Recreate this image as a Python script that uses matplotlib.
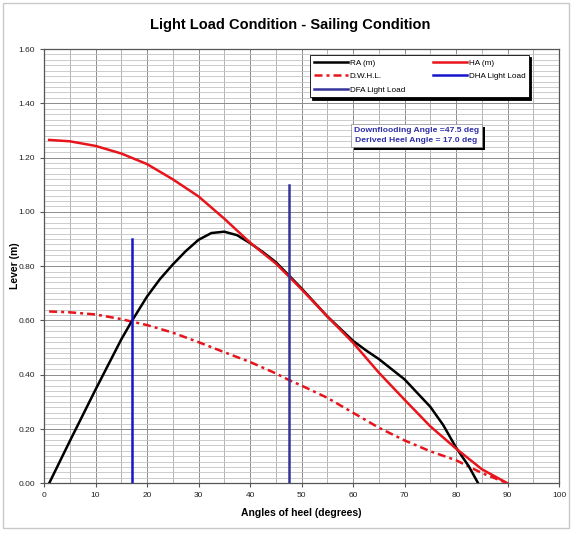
import matplotlib
matplotlib.use('Agg')
import numpy as np
import matplotlib.pyplot as plt
import matplotlib.patheffects as pe
from matplotlib.patches import Rectangle

plt.rcParams['font.family'] = ['Liberation Sans', 'DejaVu Sans']

# righting arm (RA)
ra_angle = [1, 5, 10, 15, 17, 20, 22.5, 25, 27.5, 30, 32.5, 35, 37.5, 40,
            42.5, 45, 47.5, 50, 55, 60, 62.5, 65, 70, 75, 77.5, 80, 82.5, 84.3]
ra_lever = [0, 0.155, 0.345, 0.53, 0.596, 0.688, 0.752, 0.806, 0.855, 0.897,
            0.922, 0.927, 0.914, 0.885, 0.852, 0.815, 0.767, 0.718, 0.615,
            0.525, 0.49, 0.458, 0.383, 0.282, 0.215, 0.132, 0.062, 0]

# heeling arm (HA)
ha_angle = [1, 5, 10, 15, 20, 25, 30, 35, 40, 45, 47.5, 50, 55, 60, 65, 70,
            75, 80, 85, 90]
ha_lever = [1.265, 1.26, 1.243, 1.215, 1.176, 1.12, 1.057, 0.975, 0.887, 0.81,
            0.763, 0.715, 0.615, 0.518, 0.408, 0.308, 0.21, 0.128, 0.052, 0]

# D.W.H.L.
dw_angle = [1, 5, 10, 15, 17, 20, 25, 30, 35, 40, 45, 47.5, 50, 55, 60, 65,
            70, 75, 80, 85, 90]
dw_lever = [0.633, 0.63, 0.622, 0.605, 0.596, 0.583, 0.555, 0.52, 0.483, 0.447,
            0.405, 0.381, 0.36, 0.315, 0.26, 0.205, 0.158, 0.118, 0.085, 0.038, 0]

dha_angle = 17.0
dha_top = 0.90
dfa_angle = 47.5
dfa_top = 1.10

fig = plt.figure(figsize=(5.73, 5.55), dpi=100)
ax = fig.add_axes([0.0768, 0.1292, 0.8988, 0.7825])

# outer frame of the chart
fig.patches.append(Rectangle((0.005, 0.0486), 0.988, 0.946, transform=fig.transFigure,
                             fill=False, edgecolor='#c8c8c8', linewidth=1.0))

ax.set_xlim(0, 100)
ax.set_ylim(0, 1.6)
ax.set_xticks(np.arange(0, 101, 10))
ax.set_xticks(np.arange(0, 101, 5), minor=True)
ax.set_yticks(np.arange(0, 1.61, 0.2))
ax.set_yticks(np.arange(0, 1.61, 0.02), minor=True)
ax.set_yticklabels(['%.2f' % v for v in np.arange(0, 1.61, 0.2)])

ax.grid(True, which='major', axis='x', color='#8c8c8c', linewidth=0.7)
ax.grid(True, which='minor', axis='x', color='#a8a8a8', linewidth=0.6)
ax.grid(True, which='major', axis='y', color='#8c8c8c', linewidth=0.7)
ax.grid(True, which='minor', axis='y', color='#c4c4c4', linewidth=0.6)
ax.set_axisbelow(True)

ax.tick_params(which='major', labelsize=6, length=3, color='#555555', labelcolor='#222222')
ax.tick_params(which='minor', length=0)
for s in ax.spines.values():
    s.set_color('#555555')
    s.set_linewidth(0.9)

ax.plot(ra_angle, ra_lever, color='black', lw=1.8, label='RA (m)', zorder=4)
ax.plot(dw_angle, dw_lever, color='#e8141c', lw=1.8, ls=(0, (3.2, 1.6, 1.2, 1.6)),
        label='D.W.H.L.', zorder=3)
ax.plot([dfa_angle, dfa_angle], [0, dfa_top], color='#34349a', lw=1.8,
        label='DFA Light Load', zorder=5)
ax.plot(ha_angle, ha_lever, color='#e8141c', lw=1.8, label='HA (m)', zorder=4)
ax.plot([dha_angle, dha_angle], [0, dha_top], color='#1414cc', lw=1.8,
        label='DHA Light Load', zorder=5)

handles, labels = ax.get_legend_handles_labels()
leg = ax.legend(handles, labels, ncol=2, loc='upper left', bbox_to_anchor=(0.5165, 0.986),
                borderaxespad=0, fontsize=5.9, handlelength=4.2, columnspacing=3.4,
                handletextpad=0.2, labelspacing=0.72, borderpad=0.45, fancybox=False,
                framealpha=1, edgecolor='black',
                shadow={'color': 'black', 'alpha': 1.0, 'ox': 1.6, 'oy': -1.6})
leg.get_frame().set_linewidth(0.6)
leg.set_zorder(10)

txt = ax.text(0.723, 0.801, 'Downflooding Angle =47.5 deg\nDerived Heel Angle = 17.0 deg',
              transform=ax.transAxes, ha='center', va='center', fontsize=6.1,
              fontweight='bold', color='#2e2ea8', linespacing=1.55, zorder=11,
              bbox=dict(boxstyle='square,pad=0.35', facecolor='white',
                        edgecolor='#888888', linewidth=0.5))
txt.get_bbox_patch().set_path_effects([pe.SimplePatchShadow(offset=(2.2, -2.2),
                                                            shadow_rgbFace='black', alpha=1.0),
                                       pe.Normal()])

ax.set_xlabel('Angles of heel (degrees)', fontsize=7.5, fontweight='bold', labelpad=6)
ax.set_ylabel('Lever (m)', fontsize=7.5, fontweight='bold')
ax.yaxis.set_label_coords(-0.047, 0.5)
fig.suptitle('Light Load Condition - Sailing Condition', x=0.507, y=0.967,
             fontsize=10.5, fontweight='bold')

fig.savefig('out.png', dpi=100)
